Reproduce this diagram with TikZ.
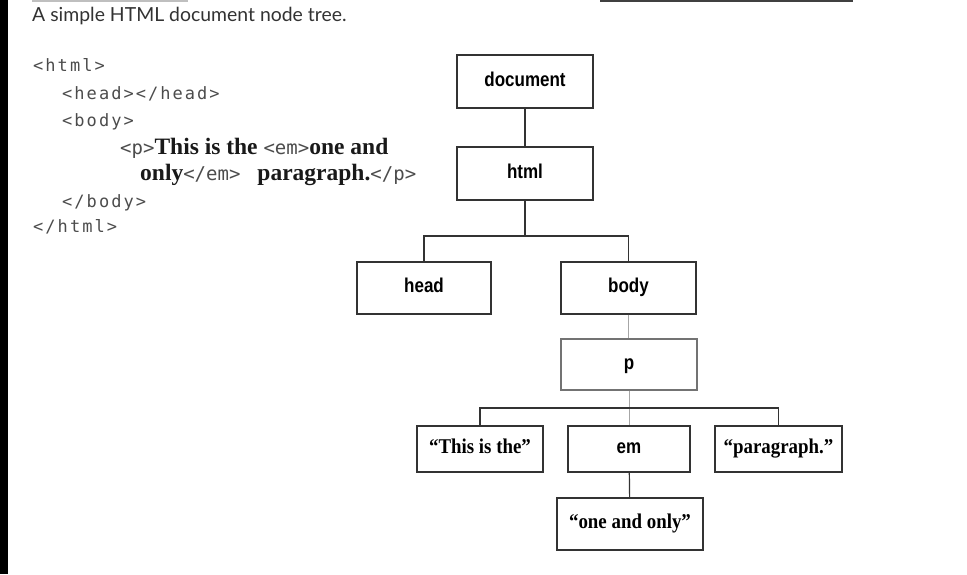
\documentclass[tikz,border=0pt]{standalone}
\usepackage{fontspec}
\setmainfont{Liberation Serif}
\newfontfamily\capfont{Lato}
\newfontfamily\tagfont{DejaVu Sans Mono}[LetterSpace=12]
\newfontfamily\intagfont{DejaVu Sans Mono}
\newfontfamily\boxfont{Liberation Sans}[FakeStretch=0.85]
\newfontfamily\quotefont{Liberation Serif}[FakeStretch=0.9]
\usetikzlibrary{positioning}

\tikzset{
  treebox/.style={draw=black!80, line width=1.4pt, inner sep=0pt,
    text height=0.95em, text depth=0pt,
    font=\boxfont\bfseries\fontsize{20}{22}\selectfont},
  textbox/.style={treebox, font=\quotefont\bfseries\fontsize{21}{23}\selectfont},
  link/.style={draw=black!80, line width=1.2pt},
  faintlink/.style={draw=black!35, line width=1pt},
  codeline/.style={anchor=west, inner sep=0pt, text=black!90,
    font=\fontsize{23.5}{25}\selectfont},
}
\newcommand{\tg}[1]{{\tagfont\fontsize{17}{19}\selectfont\color{black!70}#1}}
\newcommand{\itg}[1]{{\intagfont\fontsize{19}{21}\selectfont\color{black!70}#1}}

\begin{document}
\begin{tikzpicture}[x=1pt, y=-1pt]
\useasboundingbox (0,0) rectangle (967,574);
\fill[white] (0,0) rectangle (967,574);
% scan edges
\fill[black] (0,0) rectangle (8,574);
\fill[black!75] (600,0) rectangle (853,1.5);
\fill[black!25] (32,0) rectangle (188,2);

% caption and source
\node[anchor=west, inner sep=0pt, text=black!80, font=\capfont\fontsize{19.4}{21}\selectfont] (caption) at (32,16) {A simple HTML document node tree.};
\node[codeline] (l1) at (33,65) {\tg{<html>}};
\node[codeline] (l2) at (62,94) {\tg{<head></head>}};
\node[codeline] (l3) at (62,122) {\tg{<body>}};
\node[codeline] (l4) at (120,148) {\itg{<p>}\textbf{This is the }\itg{<em>}\textbf{one and}};
\node[codeline] (l5) at (140,175) {\textbf{only}\itg{</em>}\hspace{17pt}\textbf{paragraph.}\itg{</p>}};
\node[codeline] (l6) at (62,203) {\tg{</body>}};
\node[codeline] (l7) at (33,227) {\tg{</html>}};

% tree
\node[treebox, minimum width=136pt, minimum height=53pt] (document) at (525,81.5) {document};
\node[treebox, minimum width=136pt, minimum height=53pt] (html) at (525,173.5) {html};
\node[treebox, minimum width=134pt, minimum height=52pt] (head) at (424,288) {head};
\node[treebox, minimum width=135pt, minimum height=52pt] (body) at (628.5,288) {body};
\node[treebox, draw=black!55, minimum width=136pt, minimum height=51pt] (p) at (629,364.5) {p};
\node[textbox, minimum width=126pt, minimum height=46pt] (this) at (480,449) {“This is the”};
\node[treebox, minimum width=122pt, minimum height=46pt] (em) at (629,449) {em};
\node[textbox, minimum width=127pt, minimum height=46pt] (para) at (778.5,449) {“paragraph.”};
\node[textbox, minimum width=146pt, minimum height=52pt] (only) at (630,524) {“one and only”};

\coordinate (split1) at (525,236);
\coordinate (split2) at (629,408);
\draw[link] (document) -- (html);
\draw[link] (html) -- (split1);
\draw[link] (head.north) |- (split1) -| (body.north);
\draw[faintlink] (body.south) -- (body.south |- p.north);
\draw[faintlink] (p) -- (em);
\draw[link] (this.north) |- (split2) -| (para.north);
\draw[link] (em) -- (only);
\end{tikzpicture}
\end{document}
